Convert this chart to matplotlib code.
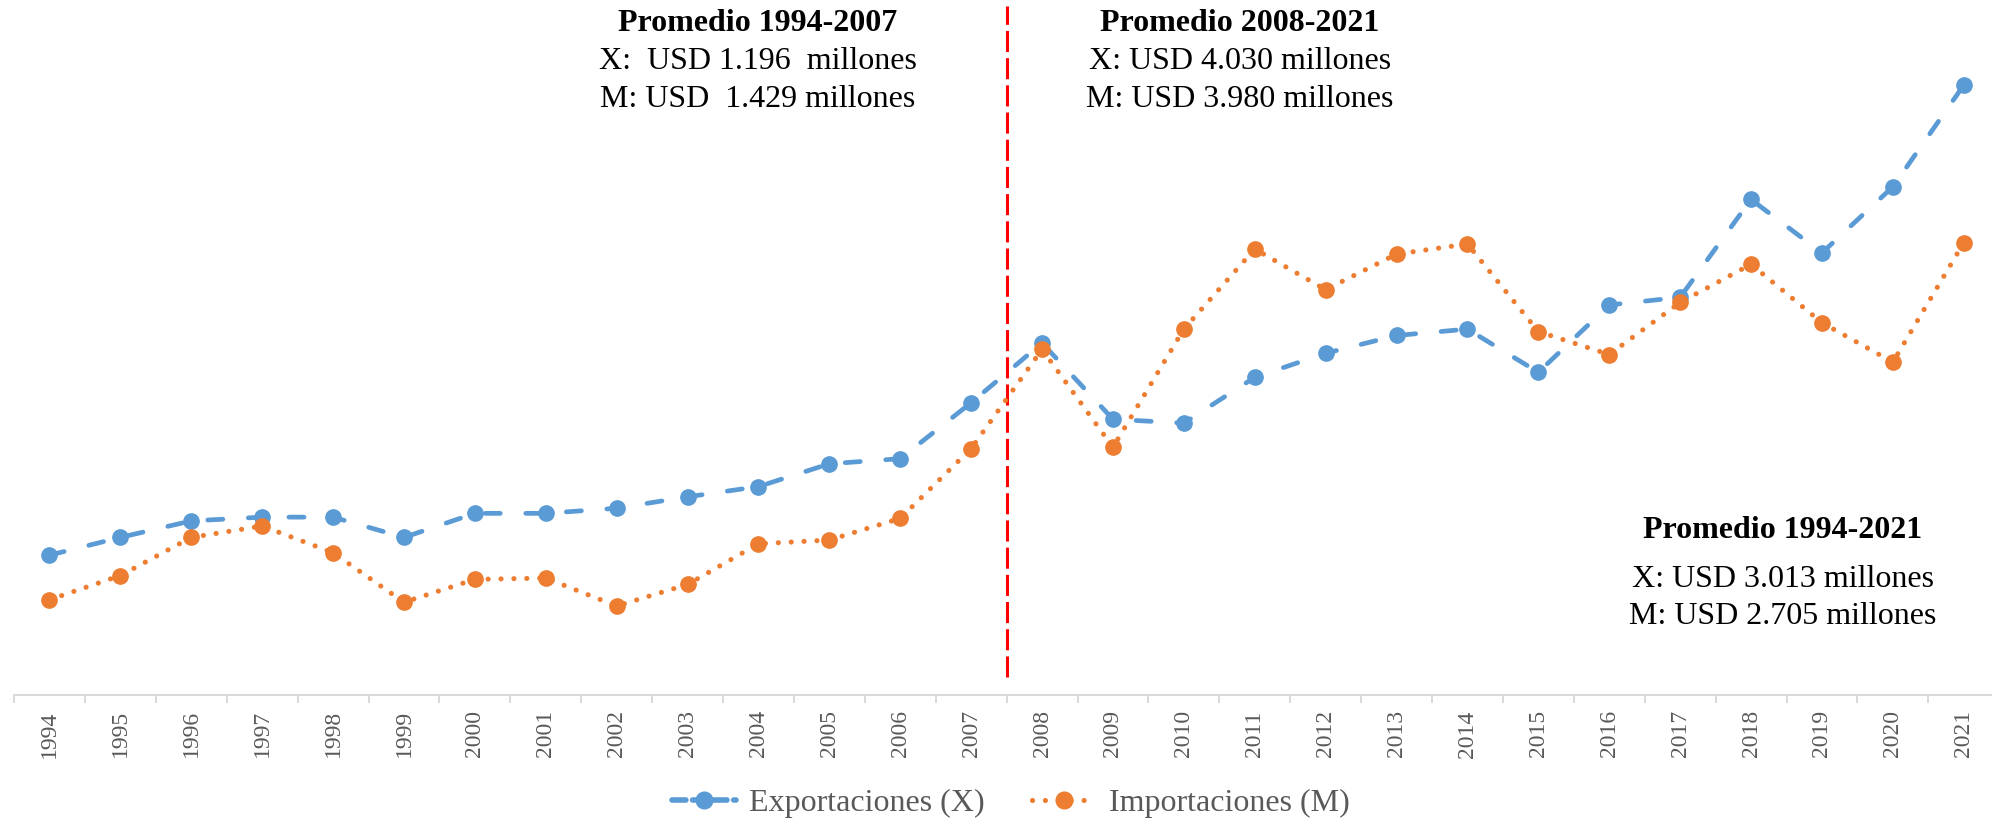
import matplotlib
matplotlib.use("Agg")
import matplotlib.pyplot as plt
import numpy as np
from matplotlib.lines import Line2D

years = [str(y) for y in range(1994, 2022)]
exportaciones = [1447, 1631, 1802, 1841, 1841, 1631, 1880, 1880, 1933, 2051,
                 2157, 2393, 2446, 3025, 3643, 2854, 2814, 3288, 3537, 3721,
                 3787, 3340, 4037, 4116, 5129, 4576, 5260, 6312]
importaciones = [986, 1236, 1631, 1749, 1473, 960, 1197, 1210, 921, 1144,
                 1565, 1604, 1828, 2551, 3577, 2564, 3787, 4616, 4195, 4563,
                 4668, 3761, 3524, 4063, 4458, 3853, 3445, 4681]
label_x = "Exportaciones (X)"
label_m = "Importaciones (M)"
ann_left = ["Promedio 1994-2007", "X:  USD 1.196  millones", "M: USD  1.429 millones"]
ann_mid = ["Promedio 2008-2021", "X: USD 4.030 millones", "M: USD 3.980 millones"]
ann_right = ["Promedio 1994-2021", "X: USD 3.013 millones", "M: USD 2.705 millones"]

BLUE = "#5B9BD5"
ORANGE = "#ED7D31"
GRAY = "#595959"
SERIF = ["Liberation Serif", "DejaVu Serif"]

W, H = 1992, 819
fig = plt.figure(figsize=(W / 100, H / 100), dpi=100)
plt.rcParams['font.family'] = SERIF

left_px, axis_px, step = 14, 695, 70.9
ax = fig.add_axes([left_px / W, (H - axis_px) / H, 28 * step / W, axis_px / H])

x = np.arange(len(years))
ax.plot(x, exportaciones, color=BLUE, lw=3.4, dashes=(3.2, 5.4),
        dash_capstyle='round', marker='o', markersize=11,
        markerfacecolor=BLUE, markeredgecolor=BLUE, zorder=3)
ax.plot(x, importaciones, color=ORANGE, lw=3.7, dashes=(0.01, 2.5),
        dash_capstyle='round', marker='o', markersize=11,
        markerfacecolor=ORANGE, markeredgecolor=ORANGE, zorder=4)

ax.axvline(13.5, ymin=18 / axis_px, ymax=689 / axis_px, color="#FF0000",
           lw=2.2, dashes=(6.9, 2.0), zorder=2)

ax.set_xlim(-0.5, 27.5)
ax.set_ylim(0, axis_px * 10.35)

for s in ['top', 'right', 'left']:
    ax.spines[s].set_visible(False)
ax.spines['bottom'].set_color("#D9D9D9")
ax.spines['bottom'].set_linewidth(1.4)
ax.set_yticks([])

ax.set_xticks(x)
ax.set_xticklabels(years, rotation=90, fontsize=17, color=GRAY, family=SERIF)
ax.tick_params(axis='x', which='major', length=0, pad=11)
ax.set_xticks(np.arange(-0.5, 28, 1), minor=True)
ax.tick_params(axis='x', which='minor', length=5.5, width=1.4, color="#D9D9D9")

def fx(px):
    return px / W

def fy(py):
    return 1 - py / H

def block(lines, cx, ys):
    for i, (t, y) in enumerate(zip(lines, ys)):
        fig.text(fx(cx), fy(y), t, ha='center', va='baseline', fontsize=23,
                 fontweight='bold' if i == 0 else 'normal', color='black',
                 family=SERIF)

block(ann_left, 758, [31, 69, 107])
block(ann_mid, 1240, [31, 69, 107])
block(ann_right, 1783, [538, 587, 624])

h1 = Line2D([], [], color=BLUE, lw=4, dashes=(2.5, 1.2), dash_capstyle='round',
            marker='o', markersize=12)
h2 = Line2D([], [], color=ORANGE, lw=3.7, dashes=(0.01, 2.5), dash_capstyle='round',
            marker='o', markersize=12)
leg = fig.legend([h1, h2], [label_x, label_m], loc='center',
                 bbox_to_anchor=((672 + 1350) / 2 / W, fy(803)), ncol=2,
                 frameon=False, handlelength=2.0, handletextpad=0.4,
                 columnspacing=1.5, prop={'family': SERIF, 'size': 23})
for t in leg.get_texts():
    t.set_color(GRAY)

fig.savefig("out.png", dpi=100)
